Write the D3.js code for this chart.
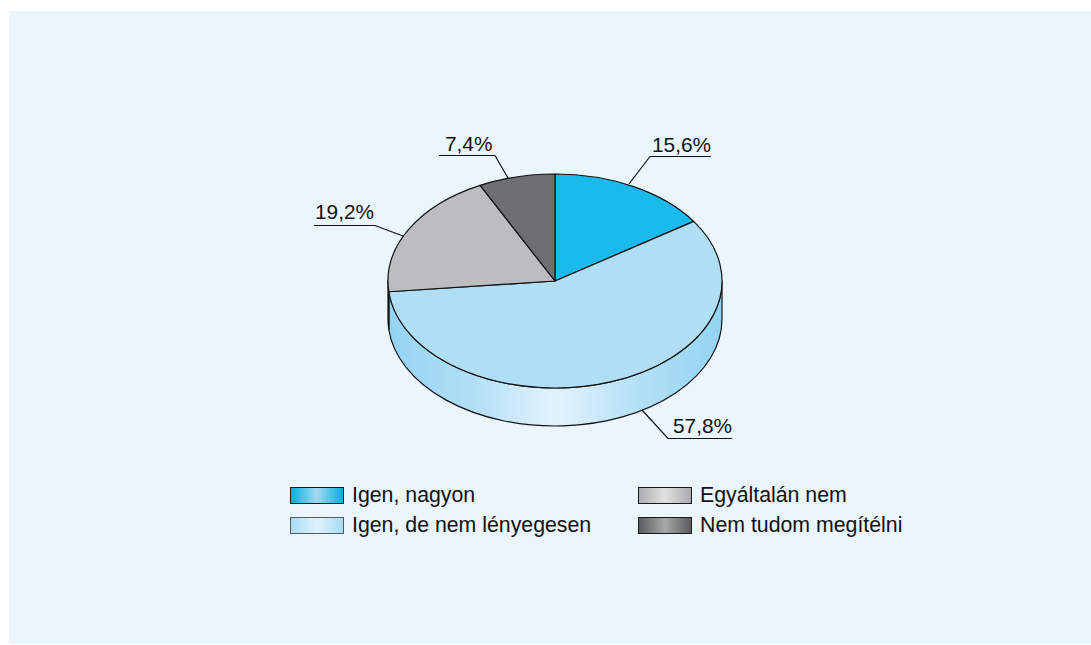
<!DOCTYPE html>
<html>
<head>
<meta charset="utf-8">
<script src="https://cdn.jsdelivr.net/npm/d3@7"></script>
<style>
  html, body { margin: 0; padding: 0; background: #fff; }
  svg { display: block; }
  text { font-family: "Liberation Sans", Arial, sans-serif; fill: #111; }
  .share-label { font-size: 20.8px; }
  .legend-label { font-size: 21.3px; }
</style>
</head>
<body>
<div id="chart"></div>
<script>
const categories = ['Igen, nagyon', 'Igen, de nem lényegesen', 'Egyáltalán nem', 'Nem tudom megítélni'];
const shares = [15.6, 57.8, 19.2, 7.4];
const shareLabels = ['15,6%', '57,8%', '19,2%', '7,4%'];
const topColors = ['#1abbec', '#b0def5', '#bcbdbf', '#6e6f71'];
const swatchEdges = ['#00aee6', '#a6dcf5', '#a9aaac', '#58595b'];
const swatchMiddles = ['#a5d9ef', '#e0f2fb', '#e2e2e2', '#a9a9a9'];
const swatchStrokes = ['#1a1a1a', '#58595b', '#1a1a1a', '#1a1a1a'];

const width = 1091;
const height = 645;
const pie3d = { cx: 555, cy: 281, rx: 167, ry: 107, depth: 38 };

// leader lines per slice: edge of pie, elbow, end of shelf, then the label spot
const leaders = [
  { line: [[629, 184], [650, 156.5], [711, 156.5]], labelX: 652, labelY: 152 },
  { line: [[642, 410], [668, 438.5], [732, 438.5]], labelX: 673, labelY: 433 },
  { line: [[403, 236], [375, 225.5], [314, 225.5]], labelX: 315, labelY: 219 },
  { line: [[508, 178], [495, 155.5], [439, 155.5]], labelX: 445, labelY: 151 },
];
const legendSpots = [
  { x: 290, y: 487 },
  { x: 290, y: 517 },
  { x: 638, y: 487 },
  { x: 638, y: 517 },
];

const svg = d3.select('#chart').append('svg').attr('width', width).attr('height', height);
const defs = svg.append('defs');

svg.append('rect')
  .attr('x', 9)
  .attr('y', 11)
  .attr('width', width - 9)
  .attr('height', height - 11 - 1)
  .attr('fill', '#eaf5fc');

const x = d3.scaleLinear().domain([-1, 1]).range([pie3d.cx - pie3d.rx, pie3d.cx + pie3d.rx]);
const y = d3.scaleLinear().domain([-1, 1]).range([pie3d.cy - pie3d.ry, pie3d.cy + pie3d.ry]);

const slices = d3.pie().sort(null).value((d) => d)(shares);

function rimPoint(angle, drop = 0) {
  return [x(Math.sin(angle)), y(-Math.cos(angle)) + drop];
}

function topPath(slice) {
  const [x0, y0] = rimPoint(slice.startAngle);
  const [x1, y1] = rimPoint(slice.endAngle);
  const large = slice.endAngle - slice.startAngle > Math.PI ? 1 : 0;
  return `M${x(0)},${y(0)}L${x0},${y0}A${pie3d.rx},${pie3d.ry} 0 ${large} 1 ${x1},${y1}Z`;
}

function sidePath(slice) {
  const a0 = Math.max(slice.startAngle, Math.PI / 2);
  const a1 = Math.min(slice.endAngle, Math.PI * 1.5);
  if (a0 >= a1) return null;
  const [tx0, ty0] = rimPoint(a0);
  const [tx1, ty1] = rimPoint(a1);
  const [bx0, by0] = rimPoint(a0, pie3d.depth);
  const [bx1, by1] = rimPoint(a1, pie3d.depth);
  return `M${tx0},${ty0}A${pie3d.rx},${pie3d.ry} 0 0 1 ${tx1},${ty1}L${bx1},${by1}A${pie3d.rx},${pie3d.ry} 0 0 0 ${bx0},${by0}Z`;
}

const sideGradient = defs.append('linearGradient')
  .attr('id', 'side-gradient')
  .attr('gradientUnits', 'userSpaceOnUse')
  .attr('x1', x(-1))
  .attr('x2', x(1))
  .attr('y1', 0)
  .attr('y2', 0);
sideGradient.selectAll('stop')
  .data([[0, '#92d4f3'], [0.25, '#b2dff6'], [0.5, '#e2f3fc'], [0.75, '#b4e0f6'], [1, '#92d4f3']])
  .join('stop')
  .attr('offset', (d) => d[0])
  .attr('stop-color', (d) => d[1]);

svg.append('g')
  .selectAll('path')
  .data(slices.filter((d) => sidePath(d)))
  .join('path')
  .attr('d', sidePath)
  .attr('fill', (d) => (d.index === 1 ? 'url(#side-gradient)' : swatchEdges[3]))
  .attr('stroke', '#111')
  .attr('stroke-width', 1.2)
  .attr('stroke-linejoin', 'round');

svg.append('g')
  .selectAll('path')
  .data(slices)
  .join('path')
  .attr('d', topPath)
  .attr('fill', (d) => topColors[d.index])
  .attr('stroke', '#111')
  .attr('stroke-width', 1.2)
  .attr('stroke-linejoin', 'round');

const leaderLine = d3.line();
svg.append('g')
  .selectAll('path')
  .data(leaders)
  .join('path')
  .attr('d', (d) => leaderLine(d.line))
  .attr('fill', 'none')
  .attr('stroke', '#111')
  .attr('stroke-width', 1.2);

svg.append('g')
  .selectAll('text')
  .data(leaders)
  .join('text')
  .attr('class', 'share-label')
  .attr('x', (d) => d.labelX)
  .attr('y', (d) => d.labelY)
  .text((d, i) => shareLabels[i]);

categories.forEach((name, i) => {
  const gradient = defs.append('linearGradient').attr('id', `swatch-${i}`);
  gradient.append('stop').attr('offset', 0).attr('stop-color', swatchEdges[i]);
  gradient.append('stop').attr('offset', 0.5).attr('stop-color', swatchMiddles[i]);
  gradient.append('stop').attr('offset', 1).attr('stop-color', swatchEdges[i]);
});

const legend = svg.append('g')
  .selectAll('g')
  .data(categories)
  .join('g')
  .attr('transform', (d, i) => `translate(${legendSpots[i].x},${legendSpots[i].y})`);

legend.append('rect')
  .attr('x', 0.5)
  .attr('y', 0.5)
  .attr('width', 53)
  .attr('height', 16)
  .attr('fill', (d, i) => `url(#swatch-${i})`)
  .attr('stroke', (d, i) => swatchStrokes[i]);

legend.append('text')
  .attr('class', 'legend-label')
  .attr('x', 62)
  .attr('y', 15)
  .text((d) => d);
</script>
</body>
</html>
